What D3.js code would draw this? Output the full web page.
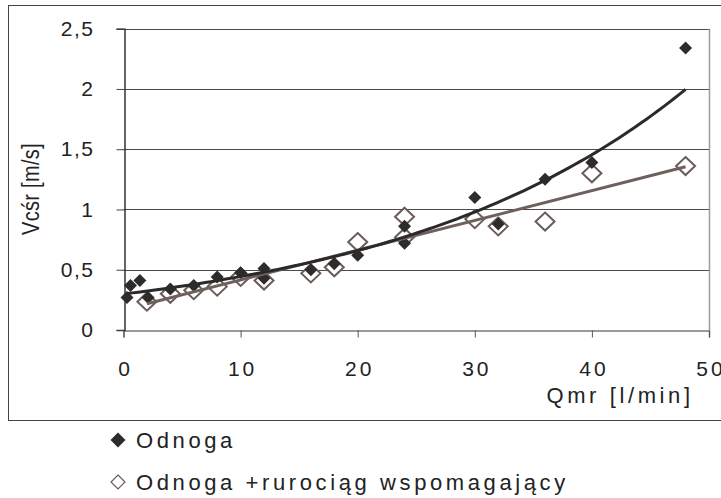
<!DOCTYPE html>
<html><head><meta charset="utf-8">
<script src="https://cdn.jsdelivr.net/npm/d3@7"></script>
<style>body{margin:0;background:#fff}svg{display:block}text{font-family:"Liberation Sans",Arial,sans-serif;fill:#222}</style>
</head><body>
<svg id="c" width="721" height="498"></svg>
<script>
// Series 1: Odnoga (filled diamonds)
const odnogaX = [0.3, 0.6, 1.4, 2.1, 4, 6, 8, 10, 12, 12, 16, 18, 20, 24, 24, 30, 32, 36, 40, 48];
const odnogaY = [0.27, 0.37, 0.41, 0.27, 0.34, 0.37, 0.44, 0.475, 0.51, 0.43, 0.5, 0.55, 0.62, 0.86, 0.72, 1.10, 0.88, 1.25, 1.39, 2.34];
// Series 2: Odnoga + rurociąg wspomagający (open diamonds)
const rurX = [2, 4, 6, 8, 10, 12, 16, 18, 20, 24, 24, 30, 32, 36, 40, 48];
const rurY = [0.235, 0.30, 0.33, 0.36, 0.44, 0.41, 0.47, 0.52, 0.73, 0.94, 0.77, 0.92, 0.86, 0.90, 1.30, 1.36];
const xTicks = [0, 10, 20, 30, 40, 50];
const yTicks = [0, 0.5, 1, 1.5, 2, 2.5];
const seriesNames = ["Odnoga", "Odnoga +rurociąg wspomagający"];
const xTitle = "Qmr [l/min]";
const yTitle = "Vcśr [m/s]";

const svg = d3.select("#c");
const L = 123.5, R = 709, T = 28.7, B = 330;
const x = d3.scaleLinear().domain([0, 50]).range([L, R]);
const y = d3.scaleLinear().domain([0, 2.5]).range([B, T]);
const fmt = v => String(v).replace(".", ",");
const XS = 3;     // x tick label letter spacing
const YS = 1.5;   // y tick label letter spacing
const LS = 3.6;   // other text letter spacing

// outer frame
svg.append("rect").attr("x", 8.5).attr("y", 5.5).attr("width", 730).attr("height", 415)
  .attr("fill", "none").attr("stroke", "#444").attr("stroke-width", 1);

// gridlines
svg.append("g").selectAll("line").data(yTicks.filter(d => d > 0)).join("line")
  .attr("x1", L).attr("x2", R).attr("y1", d => Math.round(y(d)) + 0.5).attr("y2", d => Math.round(y(d)) + 0.5)
  .attr("stroke", "#4a4a4a").attr("stroke-width", 1);
// right border of plot area
svg.append("line").attr("x1", R + 0.5).attr("x2", R + 0.5).attr("y1", T).attr("y2", B)
  .attr("stroke", "#a09896").attr("stroke-width", 1.5);

// axes
const xAxis = d3.axisBottom(x).tickValues(xTicks).tickSize(7).tickFormat(fmt);
const gx = svg.append("g").attr("transform", `translate(0,${Math.round(B) + 0.5})`).call(xAxis);
gx.select(".domain").attr("stroke", "#7a7a7a").attr("stroke-width", 1.5);
gx.selectAll(".tick line").attr("stroke", "#555");
gx.selectAll(".tick text").attr("font-size", 21).attr("letter-spacing", XS).attr("dx", XS / 2)
  .attr("y", 31).attr("fill", "#222").attr("font-family", "Liberation Sans, Arial, sans-serif");

const yAxis = d3.axisLeft(y).tickValues(yTicks).tickSize(8).tickFormat(fmt);
const gy = svg.append("g").attr("transform", `translate(${Math.round(L) + 0.5},0)`).call(yAxis);
gy.select(".domain").attr("stroke", "#333").attr("stroke-width", 1.5);
gy.selectAll(".tick line").attr("stroke", "#444");
gy.selectAll(".tick text").attr("font-size", 21).attr("letter-spacing", YS)
  .attr("x", -31.5 + YS).attr("fill", "#222").attr("font-family", "Liberation Sans, Arial, sans-serif");

// axis titles
svg.append("text").attr("x", 690 + LS).attr("y", 403).attr("text-anchor", "end")
  .attr("font-size", 22).attr("letter-spacing", LS).text(xTitle);
svg.append("text").attr("transform", "translate(39,189) scale(1.15,1) rotate(-90)").attr("text-anchor", "middle")
  .attr("font-size", 20).attr("letter-spacing", 0.3).text(yTitle);

// trend lines computed from the data
function linReg(xs, ys) {
  const mx = d3.mean(xs), my = d3.mean(ys);
  let sxy = 0, sxx = 0;
  xs.forEach((v, i) => { sxy += (v - mx) * (ys[i] - my); sxx += (v - mx) * (v - mx); });
  const b = sxy / sxx; return { b, a: my - b * mx };
}
const ex = linReg(odnogaX, odnogaY.map(Math.log));
const expA = Math.exp(ex.a), expB = ex.b;
const ln = linReg(rurX, rurY);
const line = d3.line().x(d => x(d[0])).y(d => y(d[1]));

const x1min = d3.min(odnogaX), x1max = d3.max(odnogaX);
const expPts = d3.range(0, 101).map(i => { const xv = x1min + (x1max - x1min) * i / 100; return [xv, expA * Math.exp(expB * xv)]; });
const x2min = d3.min(rurX), x2max = d3.max(rurX);
const linPts = [[x2min, ln.a + ln.b * x2min], [x2max, ln.a + ln.b * x2max]];

// diamonds
const diamond = (cx, cy, rx, ry) => `M${cx},${cy - ry}L${cx + rx},${cy}L${cx},${cy + ry}L${cx - rx},${cy}Z`;

// open series markers
svg.append("g").selectAll("path").data(rurX.map((v, i) => [v, rurY[i]])).join("path")
  .attr("d", d => diamond(x(d[0]), y(d[1]), 9.5, 9))
  .attr("fill", "#fff").attr("stroke", "#6b5b57").attr("stroke-width", 2);
// filled series markers
svg.append("g").selectAll("path").data(odnogaX.map((v, i) => [v, odnogaY[i]])).join("path")
  .attr("d", d => diamond(x(d[0]), y(d[1]), 6.5, 6.5))
  .attr("fill", "#2e2b2b");

// trend lines on top
svg.append("path").attr("d", line(linPts)).attr("fill", "none").attr("stroke", "#6e605c").attr("stroke-width", 3);
svg.append("path").attr("d", line(expPts)).attr("fill", "none").attr("stroke", "#2a2a2a").attr("stroke-width", 3);

// legend
svg.append("path").attr("d", diamond(118, 440, 7.5, 7.5)).attr("fill", "#2e2b2b");
svg.append("text").attr("x", 136).attr("y", 448).attr("font-size", 22).attr("letter-spacing", LS).text(seriesNames[0]);
svg.append("path").attr("d", diamond(118, 482, 7, 7)).attr("fill", "#fff").attr("stroke", "#6b5b57").attr("stroke-width", 1.2);
svg.append("text").attr("x", 136).attr("y", 490).attr("font-size", 22).attr("letter-spacing", LS).text(seriesNames[1]);
</script>
</body></html>
